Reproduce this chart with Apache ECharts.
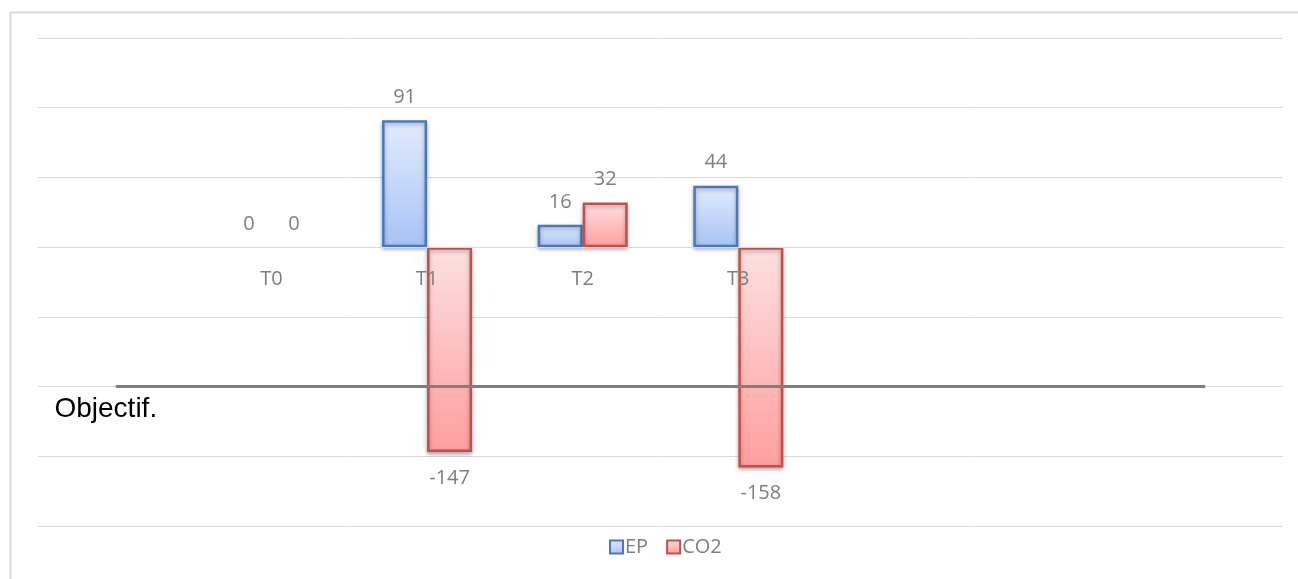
<!DOCTYPE html>
<html>
<head>
<meta charset="utf-8">
<script src="https://cdn.jsdelivr.net/npm/echarts@6/dist/echarts.min.js"></script>
<style>
  html, body { margin: 0; padding: 0; background: #fff; }
  #main { width: 1298px; height: 579px; }
</style>
</head>
<body>
<div id="main"></div>
<script>
const categories = ['', 'T0', 'T1', 'T2', 'T3', '', '', '']
const epValues = [null, 0, 91, 16, 44, null, null, null]
const co2Values = [null, 0, -147, 32, -158, null, null, null]
const objectifValues = [-100, -100, -100, -100, -100, -100, -100, -100]

const chart = echarts.init(document.getElementById('main'))

function grad(top, bottom) {
  return new echarts.graphic.LinearGradient(0, 0, 0, 1, [
    { offset: 0, color: top },
    { offset: 1, color: bottom }
  ])
}

// zero values: no border, labels above; negatives: label below
function toItems(values) {
  return values.map(v => {
    if (v === null) return null
    const item = { value: v, label: { position: v < 0 ? 'bottom' : 'top', distance: v < 0 ? 16 : 13 } }
    if (v === 0) item.itemStyle = { borderWidth: 0, color: 'rgba(0,0,0,0)' }
    return item
  })
}

const labelStyle = { show: true, color: '#7f7f7f', fontSize: 20, fontFamily: 'Open Sans' }

const option = {
  animation: false,
  graphic: [{
    type: 'rect',
    shape: { x: 10.5, y: 12.5, width: 1300, height: 600 },
    style: { fill: 'none', stroke: '#d9d9d9', lineWidth: 2 },
    silent: true
  }],
  grid: { left: 38, right: 15, top: 38, bottom: 53 },
  legend: {
    bottom: 17,
    left: 604,
    data: ['EP', 'CO2'],
    icon: 'rect',
    itemWidth: 13,
    itemHeight: 13,
    itemGap: 18,
    textStyle: { color: '#7f7f7f', fontSize: 20, fontFamily: 'Open Sans', padding: [0, 0, 0, -3] }
  },
  xAxis: {
    type: 'category',
    data: categories,
    offset: -279,
    z: 10,
    axisLine: { onZero: false, lineStyle: { color: '#d9d9d9', width: 1 } },
    axisTick: { show: false },
    axisLabel: { color: '#7f7f7f', fontSize: 20, fontFamily: 'Open Sans', margin: 22 }
  },
  yAxis: {
    type: 'value',
    min: -200,
    max: 150,
    interval: 50,
    axisLabel: { show: false },
    axisLine: { show: false },
    axisTick: { show: false },
    splitLine: { lineStyle: { color: '#d9d9d9', width: 1 } }
  },
  series: [
    {
      name: 'EP',
      type: 'bar',
      data: toItems(epValues),
      barWidth: 45,
      barGap: '0%',
      itemStyle: {
        color: grad('#e2ebfc', '#a6c3f6'),
        borderColor: '#4a77c0',
        borderWidth: 2.5,
        shadowColor: 'rgba(0,0,0,0.3)',
        shadowBlur: 4,
        shadowOffsetY: 2
      },
      label: labelStyle
    },
    {
      name: 'CO2',
      type: 'bar',
      data: toItems(co2Values),
      barWidth: 45,
      itemStyle: {
        color: grad('#fde0e0', '#ff9e9e'),
        borderColor: '#c0504d',
        borderWidth: 2.5,
        shadowColor: 'rgba(0,0,0,0.3)',
        shadowBlur: 4,
        shadowOffsetY: 2
      },
      label: labelStyle
    },
    {
      name: 'Objectif',
      type: 'line',
      data: objectifValues,
      symbol: 'circle',
      symbolSize: 0.1,
      showSymbol: true,
      lineStyle: { color: '#7f7f7f', width: 3 },
      itemStyle: { color: '#7f7f7f' },
      z: 5,
      label: {
        show: true,
        position: 'bottom',
        distance: 0,
        offset: [-10, 9],
        color: '#000',
        fontSize: 28,
        fontFamily: 'Liberation Sans',
        formatter: p => p.dataIndex === 0 ? 'Objectif.' : ''
      }
    }
  ]
}

chart.setOption(option)
</script>
</body>
</html>
